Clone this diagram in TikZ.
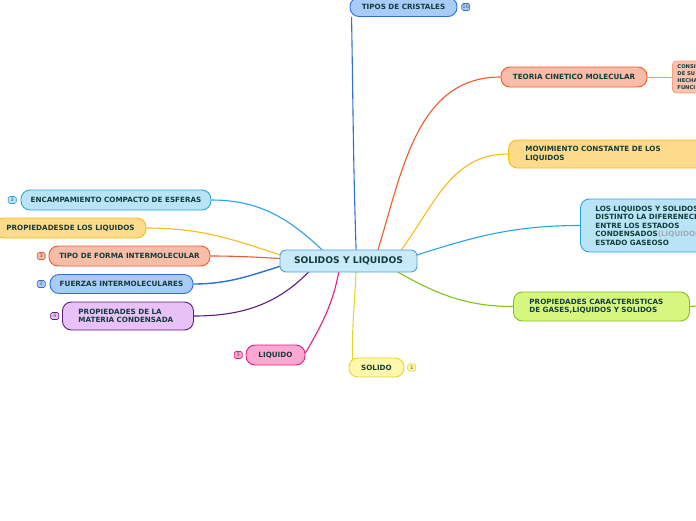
\documentclass[tikz,border=0pt]{standalone}
\usepackage{fontspec}
\setmainfont{DejaVu Sans}
\usetikzlibrary{positioning,backgrounds}
\definecolor{tinta}{HTML}{143C3A}
\definecolor{centroB}{HTML}{4FA3D6}
\definecolor{centroF}{HTML}{C8EAF9}
\definecolor{azulB}{HTML}{2F6FD8}
\definecolor{azulF}{HTML}{A9CBF7}
\definecolor{naranjaB}{HTML}{F05A28}
\definecolor{naranjaF}{HTML}{F8BCA8}
\definecolor{amarB}{HTML}{F9B91F}
\definecolor{amarF}{HTML}{FDDB8B}
\definecolor{celesteB}{HTML}{2AA3E0}
\definecolor{celesteF}{HTML}{B9E4F8}
\definecolor{limaB}{HTML}{82C21C}
\definecolor{limaF}{HTML}{D6F77F}
\definecolor{limonB}{HTML}{E7D62A}
\definecolor{limonF}{HTML}{FFF7A9}
\definecolor{rosaB}{HTML}{E61D7C}
\definecolor{rosaF}{HTML}{FCA8D2}
\definecolor{moradoB}{HTML}{5E1B7E}
\definecolor{moradoF}{HTML}{E9C1F9}
\definecolor{salmonB}{HTML}{F3A184}
\definecolor{salmonF}{HTML}{FBC2AD}
\definecolor{grisT}{HTML}{A3AAB0}
\tikzset{
  nucleo/.style={rectangle, rounded corners=6pt, draw=centroB, fill=centroF, line width=0.9pt,
                 text=tinta, font=\fontsize{9.2}{10}\selectfont\bfseries, minimum width=137pt, minimum height=22pt},
  rama/.style 2 args={rectangle, rounded corners=9pt, draw=#1, fill=#2, line width=0.9pt, inner sep=0pt,
                      text=tinta, font=\fontsize{7.2}{8.5}\selectfont\bfseries, minimum height=20pt},
  cuenta/.style 2 args={rectangle, rounded corners=1.5pt, draw=#1, fill=#2, line width=0.6pt, inner sep=0pt,
                        text=gray, font=\fontsize{4.8}{5}\selectfont\bfseries, minimum width=8pt, minimum height=7pt},
  enlace/.style={line width=1.1pt, draw=#1},
}
\begin{document}
\begin{tikzpicture}[x=1pt,y=1pt]
    \useasboundingbox (0,0) rectangle (696,-520);
    \clip (0,0) rectangle (696,-520);
    \node[nucleo] (cen) at (348.5,-261) {SOLIDOS Y LIQUIDOS};
    % lado derecho
    \node[rama={azulB}{azulF}, minimum width=107pt, minimum height=19pt] (tipos) at (403.5,-7) {TIPOS DE CRISTALES};
    \node[cuenta={azulB}{azulF}, right=4pt of tipos] (tiposN) {16};
    \node[rama={naranjaB}{naranjaF}, minimum width=146pt] (teoria) at (574,-77) {TEORIA CINETICO MOLECULAR};
    \node[rama={salmonB}{salmonF}, rounded corners=4pt, anchor=west, align=left, inner xsep=5pt, text width=46pt,
          minimum height=32pt, font=\fontsize{5.2}{7}\selectfont\bfseries] (consi) at (672,-77) {CONSI\\DE SU\\HECHA\\FUNCI};
    \node[rama={amarB}{amarF}, anchor=west, align=left, inner xsep=17pt, text width=166pt, minimum height=28pt] (movim) at (508,-154) {MOVIMIENTO CONSTANTE DE LOS\\LIQUIDOS};
    \node[rama={celesteB}{celesteF}, anchor=west, align=left, inner xsep=15pt, text width=130pt, minimum height=53pt] (losliq) at (580,-225.5)
         {LOS LIQUIDOS Y SOLIDOS\\DISTINTO LA DIFERENECI\\ENTRE LOS ESTADOS\\CONDENSADOS{\color{grisT}(LIQUIDOS}\\ESTADO GASEOSO};
    \node[rama={limaB}{limaF}, anchor=west, align=left, inner xsep=16pt, text width=144pt, minimum height=29pt] (propcar) at (513,-306.5)
         {PROPIEDADES CARACTERISTICAS\\DE GASES,LIQUIDOS Y SOLIDOS};
    \coordinate (propcarfin) at (697,-306);
    \node[rama={limonB}{limonF}, minimum width=55pt, minimum height=19pt] (solido) at (376.5,-367.5) {SOLIDO};
    \node[cuenta={limonB}{limonF}, right=3pt of solido] (solidoN) {1};
    % lado izquierdo
    \node[rama={rosaB}{rosaF}, minimum width=59pt] (liquido) at (275.5,-355) {LIQUIDO};
    \node[cuenta={rosaB}{rosaF}, left=3pt of liquido] (liquidoN) {5};
    \node[rama={moradoB}{moradoF}, anchor=west, align=left, inner xsep=16pt, text width=99pt, minimum height=28pt] (propmat) at (62,-316)
         {PROPIEDADES DE LA\\MATERIA CONDENSADA};
    \node[cuenta={moradoB}{moradoF}, left=3pt of propmat] (propmatN) {4};
    \node[rama={azulB}{azulF}, minimum width=143pt, minimum height=19pt] (fuerzas) at (121.5,-284) {FUERZAS INTERMOLECULARES};
    \node[cuenta={azulB}{azulF}, left=4pt of fuerzas] (fuerzasN) {2};
    \node[rama={naranjaB}{naranjaF}, minimum width=161pt] (tipoforma) at (129.5,-256) {TIPO DE FORMA INTERMOLECULAR};
    \node[cuenta={naranjaB}{naranjaF}, left=3pt of tipoforma] (tipoformaN) {3};
    \node[rama={amarB}{amarF}, minimum width=151pt] (propliq) at (70.5,-228) {PROPIEDADESDE LOS LIQUIDOS};
    \node[rama={celesteB}{celesteF}, minimum width=190pt] (encamp) at (116,-200) {ENCAMPAMIENTO COMPACTO DE ESFERAS};
    \node[cuenta={celesteB}{celesteF}, left=4pt of encamp] (encampN) {2};
    \begin{pgfonlayer}{background}
    \draw[enlace=azulB] (cen.center) ++(8,0) to[out=92,in=-89] ([xshift=2pt]tipos.south west);
    \draw[enlace=naranjaB] (cen.center) ++(26,0) to[out=72,in=180] (teoria.west);
    \draw[enlace=salmonB, line width=0.8pt] (teoria.east) -- (consi.west);
    \draw[enlace=amarB] (cen.center) ++(44,0) to[out=50,in=180] (movim.west);
    \draw[enlace=celesteB] (cen.center) ++(50,0) to[out=18,in=180] (losliq.west);
    \draw[enlace=limaB] (cen.center) ++(30,0) to[out=-30,in=180] (propcar.west);
    \draw[enlace=limaB] (propcar.east) -- (propcarfin);
    \draw[enlace=limonB] (cen.center) ++(8,0) to[out=-92,in=91] ([xshift=4pt,yshift=-3pt]solido.north west);
    \draw[enlace=rosaB] (cen.center) ++(-8,0) to[out=-98,in=60] ([yshift=2pt]liquido.east);
    \draw[enlace=moradoB] (cen.center) ++(-30,0) to[out=-130,in=0] (propmat.east);
    \draw[enlace=azulB, line width=1.4pt] (cen.center) ++(-50,0) to[out=-165,in=0] (fuerzas.east);
    \draw[enlace=naranjaB] (cen.center) to[out=180,in=0] (tipoforma.east);
    \draw[enlace=amarB] (cen.center) ++(-50,0) to[out=162,in=0] (propliq.east);
    \draw[enlace=celesteB] (cen.center) ++(-15,0) to[out=135,in=0] (encamp.east);
    \end{pgfonlayer}
  \end{tikzpicture}
\end{document}
